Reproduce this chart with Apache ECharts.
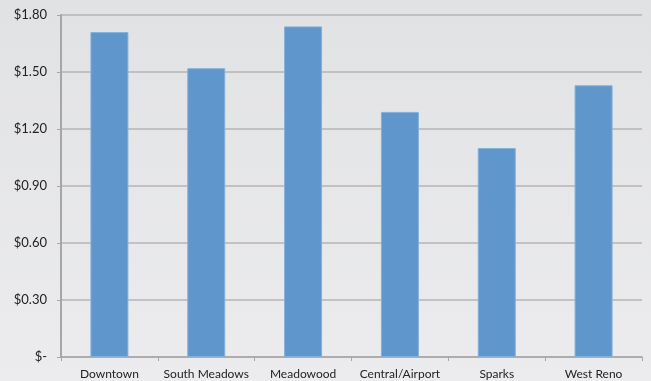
<!DOCTYPE html>
<html lang="en">
<head>
    <meta charset="UTF-8">
    <title>Price by area</title>
    <style>
        html, body { margin: 0; padding: 0; }
        #chart { width: 651px; height: 381px; }
    </style>
    <script src="https://cdn.jsdelivr.net/npm/echarts@6/dist/echarts.min.js"></script>
</head>
<body>
<div id="chart"></div>
<script>
var areas = ['Downtown', 'South Meadows', 'Meadowood', 'Central/Airport', 'Sparks', 'West Reno'];
var prices = [1.71, 1.52, 1.74, 1.29, 1.10, 1.43];
var yMin = 0, yMax = 1.8, yStep = 0.3;

var chart = echarts.init(document.getElementById('chart'));
var option = {
    backgroundColor: new echarts.graphic.LinearGradient(0, 0, 0, 1, [
        {offset: 0, color: '#e1e2e4'},
        {offset: 1, color: '#ececee'}
    ]),
    animation: false,
    grid: {left: 61, right: 9, top: 15, bottom: 24},
    xAxis: {
        type: 'category',
        data: areas,
        axisLine: {lineStyle: {color: '#a6a6a6', width: 1.5}},
        axisTick: {show: true, length: 4, lineStyle: {color: '#a6a6a6'}},
        axisLabel: {color: '#222', fontFamily: 'Lato', fontSize: 12, margin: 11, interval: 0}
    },
    yAxis: {
        type: 'value',
        min: yMin,
        max: yMax,
        interval: yStep,
        axisLine: {show: true, lineStyle: {color: '#a6a6a6', width: 2}},
        axisTick: {show: true, length: 4, lineStyle: {color: '#a6a6a6'}},
        splitLine: {lineStyle: {color: '#b4b4b4', width: 1.5}},
        axisLabel: {
            color: '#222', fontFamily: 'Lato', fontSize: 13, margin: 14,
            formatter: function (v) {
                return v === 0 ? '$-' : '$' + v.toFixed(2);
            }
        }
    },
    series: [{
        type: 'bar',
        data: prices,
        barWidth: 38,
        itemStyle: {color: '#5f96cb', borderColor: '#84b0da', borderWidth: 1}
    }]
};
chart.setOption(option);
</script>
</body>
</html>
